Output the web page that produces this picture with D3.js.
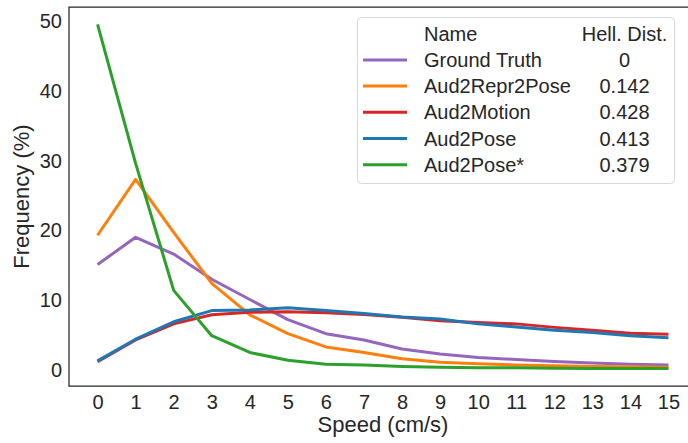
<!DOCTYPE html>
<meta charset="utf-8">
<style>
  body { margin: 0; background: white; }
  svg { font-family: "Liberation Sans", Arial, sans-serif; }
  .axis .domain { display: none; }
  .axis text { fill: #262626; font-size: 20px; }
</style>
<svg width="688" height="443"></svg>
<script src="https://cdn.jsdelivr.net/npm/d3@7/dist/d3.min.js"></script>
<script>
  // data
  var speeds = [0, 1, 2, 3, 4, 5, 6, 7, 8, 9, 10, 11, 12, 13, 14, 15];
  var groundTruth   = [15.0, 18.9, 16.5, 12.9, 10.0, 7.1, 5.1, 4.2, 2.9, 2.2, 1.7, 1.4, 1.1, 0.9, 0.7, 0.6];
  var aud2Repr2Pose = [19.2, 27.2, 19.6, 12.3, 7.8, 5.1, 3.2, 2.4, 1.5, 1.0, 0.8, 0.6, 0.5, 0.4, 0.35, 0.3];
  var aud2Motion    = [1.1, 4.2, 6.5, 7.8, 8.15, 8.25, 8.1, 7.85, 7.45, 6.95, 6.7, 6.5, 6.0, 5.6, 5.15, 5.0];
  var aud2Pose      = [1.2, 4.3, 6.8, 8.4, 8.5, 8.8, 8.4, 8.0, 7.5, 7.2, 6.5, 6.05, 5.6, 5.25, 4.8, 4.5];
  var aud2PoseStar  = [49.4, 29.5, 11.3, 4.8, 2.4, 1.3, 0.7, 0.6, 0.4, 0.3, 0.2, 0.2, 0.15, 0.1, 0.1, 0.1];

  var seriesNames = ["Ground Truth", "Aud2Repr2Pose", "Aud2Motion", "Aud2Pose", "Aud2Pose*"];
  var hellDist = ["0", "0.142", "0.428", "0.413", "0.379"];
  var colors = ["#9467bd", "#ff7f0e", "#d62728", "#1f77b4", "#2ca02c"];
  var yTicks = [0, 10, 20, 30, 40, 50];

  var series = [groundTruth, aud2Repr2Pose, aud2Motion, aud2Pose, aud2PoseStar];

  var svg = d3.select("svg");
  var plot = {left: 69, top: 7, right: 697, bottom: 386};

  var x = d3.scaleLinear().domain([-0.75, 15.75]).range([plot.left, plot.right]);
  var y = d3.scaleLinear().domain([-2.4, 51.9]).range([plot.bottom, plot.top]);

  // x axis
  svg.append("g")
      .attr("class", "axis")
      .attr("transform", "translate(0," + plot.bottom + ")")
      .call(d3.axisBottom(x).tickValues(speeds).tickSize(0).tickPadding(9).tickFormat(d3.format("d")));

  // y axis
  svg.append("g")
      .attr("class", "axis")
      .attr("transform", "translate(" + plot.left + ",0)")
      .call(d3.axisLeft(y).tickValues(yTicks).tickSize(0).tickPadding(7))
    .selectAll("text")
      .attr("dy", "0.36em");

  // lines
  var line = d3.line()
      .x(function(d, i) { return x(speeds[i]); })
      .y(function(d) { return y(d); });

  svg.append("g")
    .selectAll("path")
    .data(series)
    .enter().append("path")
      .attr("d", line)
      .attr("fill", "none")
      .attr("stroke", function(d, i) { return colors[i]; })
      .attr("stroke-width", 3)
      .attr("stroke-linejoin", "round")
      .attr("stroke-linecap", "butt");

  // frame (left, top, bottom; right side falls outside the picture)
  svg.append("path")
      .attr("d", "M" + plot.right + "," + plot.top + "H" + plot.left + "V" + plot.bottom + "H" + plot.right)
      .attr("fill", "none")
      .attr("stroke", "#262626")
      .attr("stroke-width", 1.25);

  // axis titles
  svg.append("text")
      .attr("x", (plot.left + plot.right) / 2)
      .attr("y", 432)
      .attr("text-anchor", "middle")
      .attr("font-size", 22)
      .attr("fill", "#262626")
      .text("Speed (cm/s)");

  svg.append("text")
      .attr("transform", "translate(29," + (plot.top + plot.bottom) / 2 + ") rotate(-90)")
      .attr("text-anchor", "middle")
      .attr("font-size", 22)
      .attr("fill", "#262626")
      .text("Frequency (%)");

  // legend
  var legend = svg.append("g");
  legend.append("rect")
      .attr("x", 357.5).attr("y", 17.5)
      .attr("width", 317).attr("height", 166)
      .attr("rx", 4)
      .attr("fill", "white").attr("fill-opacity", 0.8)
      .attr("stroke", "#d9d9d9").attr("stroke-width", 1);

  var rowH = 26.2, firstBase = 40.7;
  legend.append("text").attr("x", 424).attr("y", firstBase)
      .attr("font-size", 20).attr("fill", "#262626").text("Name");
  legend.append("text").attr("x", 624.5).attr("y", firstBase).attr("text-anchor", "middle")
      .attr("font-size", 20).attr("fill", "#262626").text("Hell. Dist.");

  var rows = legend.selectAll("g.row")
      .data(seriesNames)
      .enter().append("g")
      .attr("class", "row")
      .attr("transform", function(d, i) { return "translate(0," + (firstBase + rowH * (i + 1)) + ")"; });

  rows.append("line")
      .attr("x1", 363).attr("x2", 407)
      .attr("y1", -7).attr("y2", -7)
      .attr("stroke", function(d, i) { return colors[i]; })
      .attr("stroke-width", 3);

  rows.append("text")
      .attr("x", 424)
      .attr("font-size", 20).attr("fill", "#262626")
      .text(function(d) { return d; });

  rows.append("text")
      .attr("x", 624.5).attr("text-anchor", "middle")
      .attr("font-size", 20).attr("fill", "#262626")
      .text(function(d, i) { return hellDist[i]; });
</script>
